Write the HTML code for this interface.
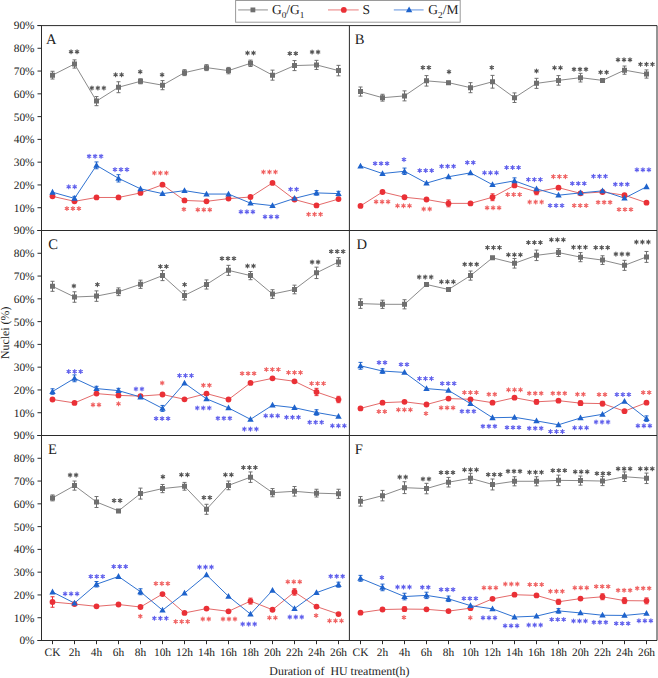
<!DOCTYPE html><html><head><meta charset="utf-8"><style>html,body{margin:0;padding:0;background:#fff;}svg{display:block;}text{font-family:"Liberation Serif",serif;text-rendering:geometricPrecision;}</style></head><body>
<svg width="658" height="678" viewBox="0 0 658 678">
<rect width="658" height="678" fill="#fff"/>
<polyline points="52.5,75.16 74.5,63.99 96.5,101.12 118.5,87.23 140.5,81.31 162.5,85.18 184.5,72.65 206.5,67.64 228.5,70.6 250.5,63.31 272.5,75.16 294.5,65.59 316.5,64.91 338.5,70.6" fill="none" stroke="#8a8a8a" stroke-width="1" stroke-linejoin="round"/>
<polyline points="52.5,196.33 74.5,201.34 96.5,197.47 118.5,197.47 140.5,192.92 162.5,184.72 184.5,200.43 206.5,201.34 228.5,198.61 250.5,197.02 272.5,182.89 294.5,199.52 316.5,205.44 338.5,199.07" fill="none" stroke="#e46a6a" stroke-width="1" stroke-linejoin="round"/>
<polyline points="52.5,192.23 74.5,198.38 96.5,165.36 118.5,178.34 140.5,188.82 162.5,193.6 184.5,190.64 206.5,194.06 228.5,194.06 250.5,203.17 272.5,205.67 294.5,198.38 316.5,192.92 338.5,193.6" fill="none" stroke="#2f72d2" stroke-width="1" stroke-linejoin="round"/>
<path d="M52.5 71.28V79.03M50.5 71.28H54.5M50.5 79.03H54.5M74.5 59.89V68.09M72.5 59.89H76.5M72.5 68.09H76.5M96.5 96.57V105.68M94.5 96.57H98.5M94.5 105.68H98.5M118.5 81.76V92.69M116.5 81.76H120.5M116.5 92.69H120.5M140.5 78.8V83.81M138.5 78.8H142.5M138.5 83.81H142.5M162.5 80.62V89.73M160.5 80.62H164.5M160.5 89.73H164.5M184.5 69.69V75.61M182.5 69.69H186.5M182.5 75.61H186.5M206.5 64.68V70.6M204.5 64.68H208.5M204.5 70.6H208.5M228.5 67.41V73.79M226.5 67.41H230.5M226.5 73.79H230.5M250.5 60.12V66.5M248.5 60.12H252.5M248.5 66.5H252.5M272.5 70.14V80.17M270.5 70.14H274.5M270.5 80.17H274.5M294.5 60.58V70.6M292.5 60.58H296.5M292.5 70.6H296.5M316.5 60.35V69.46M314.5 60.35H318.5M314.5 69.46H318.5M338.5 65.36V75.84M336.5 65.36H340.5M336.5 75.84H340.5" stroke="#6f6f6f" stroke-width="1" fill="none"/>
<path d="" stroke="#ea3036" stroke-width="1" fill="none"/>
<path d="M74.5 196.33V200.43M72.5 196.33H76.5M72.5 200.43H76.5M96.5 161.94V168.77M94.5 161.94H98.5M94.5 168.77H98.5M118.5 174.69V181.98M116.5 174.69H120.5M116.5 181.98H120.5M316.5 190.64V195.19M314.5 190.64H318.5M314.5 195.19H318.5M338.5 191.32V195.88M336.5 191.32H340.5M336.5 195.88H340.5" stroke="#1e63cc" stroke-width="1" fill="none"/>
<path d="M50 72.66h5v5h-5zM72 61.49h5v5h-5zM94 98.62h5v5h-5zM116 84.73h5v5h-5zM138 78.81h5v5h-5zM160 82.68h5v5h-5zM182 70.15h5v5h-5zM204 65.14h5v5h-5zM226 68.1h5v5h-5zM248 60.81h5v5h-5zM270 72.66h5v5h-5zM292 63.09h5v5h-5zM314 62.41h5v5h-5zM336 68.1h5v5h-5z" fill="#6f6f6f"/>
<circle cx="52.5" cy="196.33" r="2.9" fill="#ea3036"/>
<circle cx="74.5" cy="201.34" r="2.9" fill="#ea3036"/>
<circle cx="96.5" cy="197.47" r="2.9" fill="#ea3036"/>
<circle cx="118.5" cy="197.47" r="2.9" fill="#ea3036"/>
<circle cx="140.5" cy="192.92" r="2.9" fill="#ea3036"/>
<circle cx="162.5" cy="184.72" r="2.9" fill="#ea3036"/>
<circle cx="184.5" cy="200.43" r="2.9" fill="#ea3036"/>
<circle cx="206.5" cy="201.34" r="2.9" fill="#ea3036"/>
<circle cx="228.5" cy="198.61" r="2.9" fill="#ea3036"/>
<circle cx="250.5" cy="197.02" r="2.9" fill="#ea3036"/>
<circle cx="272.5" cy="182.89" r="2.9" fill="#ea3036"/>
<circle cx="294.5" cy="199.52" r="2.9" fill="#ea3036"/>
<circle cx="316.5" cy="205.44" r="2.9" fill="#ea3036"/>
<circle cx="338.5" cy="199.07" r="2.9" fill="#ea3036"/>
<path d="M52.5 188.83L55.7 194.63L49.3 194.63zM74.5 194.98L77.7 200.78L71.3 200.78zM96.5 161.96L99.7 167.76L93.3 167.76zM118.5 174.94L121.7 180.74L115.3 180.74zM140.5 185.42L143.7 191.22L137.3 191.22zM162.5 190.2L165.7 196L159.3 196zM184.5 187.24L187.7 193.04L181.3 193.04zM206.5 190.66L209.7 196.46L203.3 196.46zM228.5 190.66L231.7 196.46L225.3 196.46zM250.5 199.77L253.7 205.57L247.3 205.57zM272.5 202.27L275.7 208.07L269.3 208.07zM294.5 194.98L297.7 200.78L291.3 200.78zM316.5 189.52L319.7 195.32L313.3 195.32zM338.5 190.2L341.7 196L335.3 196z" fill="#1e63cc"/>
<polyline points="360.5,91.56 382.5,97.71 404.5,95.88 426.5,80.85 448.5,82.67 470.5,87.68 492.5,81.76 514.5,97.71 536.5,83.36 558.5,80.39 580.5,77.66 602.5,80.39 624.5,70.14 646.5,74.02" fill="none" stroke="#8a8a8a" stroke-width="1" stroke-linejoin="round"/>
<polyline points="360.5,205.9 382.5,192.01 404.5,197.24 426.5,199.52 448.5,203.39 470.5,203.39 492.5,197.24 514.5,185.4 536.5,191.78 558.5,187.68 580.5,193.37 602.5,192.01 624.5,195.19 646.5,202.71" fill="none" stroke="#e46a6a" stroke-width="1" stroke-linejoin="round"/>
<polyline points="360.5,166.04 382.5,173.56 404.5,171.28 426.5,183.12 448.5,176.74 470.5,172.87 492.5,184.72 514.5,180.84 536.5,188.82 558.5,195.19 580.5,192.92 602.5,190.87 624.5,198.16 646.5,186.77" fill="none" stroke="#2f72d2" stroke-width="1" stroke-linejoin="round"/>
<path d="M360.5 87V96.11M358.5 87H362.5M358.5 96.11H362.5M382.5 94.29V101.12M380.5 94.29H384.5M380.5 101.12H384.5M404.5 90.87V100.89M402.5 90.87H406.5M402.5 100.89H406.5M426.5 75.61V86.09M424.5 75.61H428.5M424.5 86.09H428.5M448.5 81.31V84.04M446.5 81.31H450.5M446.5 84.04H450.5M470.5 82.67V92.69M468.5 82.67H472.5M468.5 92.69H472.5M492.5 75.38V88.14M490.5 75.38H494.5M490.5 88.14H494.5M514.5 92.92V102.49M512.5 92.92H516.5M512.5 102.49H516.5M536.5 78.34V88.37M534.5 78.34H538.5M534.5 88.37H538.5M558.5 75.61V85.18M556.5 75.61H560.5M556.5 85.18H560.5M580.5 73.33V81.99M578.5 73.33H582.5M578.5 81.99H582.5M602.5 79.03V81.76M600.5 79.03H604.5M600.5 81.76H604.5M624.5 66.04V74.24M622.5 66.04H626.5M622.5 74.24H626.5M646.5 69.92V78.12M644.5 69.92H648.5M644.5 78.12H648.5" stroke="#6f6f6f" stroke-width="1" fill="none"/>
<path d="M448.5 199.98V206.81M446.5 199.98H450.5M446.5 206.81H450.5M492.5 193.83V200.66M490.5 193.83H494.5M490.5 200.66H494.5M536.5 188.82V194.74M534.5 188.82H538.5M534.5 194.74H538.5" stroke="#ea3036" stroke-width="1" fill="none"/>
<path d="M404.5 168.09V174.47M402.5 168.09H406.5M402.5 174.47H406.5M514.5 177.88V183.81M512.5 177.88H516.5M512.5 183.81H516.5" stroke="#1e63cc" stroke-width="1" fill="none"/>
<path d="M358 89.06h5v5h-5zM380 95.21h5v5h-5zM402 93.38h5v5h-5zM424 78.35h5v5h-5zM446 80.17h5v5h-5zM468 85.18h5v5h-5zM490 79.26h5v5h-5zM512 95.21h5v5h-5zM534 80.86h5v5h-5zM556 77.89h5v5h-5zM578 75.16h5v5h-5zM600 77.89h5v5h-5zM622 67.64h5v5h-5zM644 71.52h5v5h-5z" fill="#6f6f6f"/>
<circle cx="360.5" cy="205.9" r="2.9" fill="#ea3036"/>
<circle cx="382.5" cy="192.01" r="2.9" fill="#ea3036"/>
<circle cx="404.5" cy="197.24" r="2.9" fill="#ea3036"/>
<circle cx="426.5" cy="199.52" r="2.9" fill="#ea3036"/>
<circle cx="448.5" cy="203.39" r="2.9" fill="#ea3036"/>
<circle cx="470.5" cy="203.39" r="2.9" fill="#ea3036"/>
<circle cx="492.5" cy="197.24" r="2.9" fill="#ea3036"/>
<circle cx="514.5" cy="185.4" r="2.9" fill="#ea3036"/>
<circle cx="536.5" cy="191.78" r="2.9" fill="#ea3036"/>
<circle cx="558.5" cy="187.68" r="2.9" fill="#ea3036"/>
<circle cx="580.5" cy="193.37" r="2.9" fill="#ea3036"/>
<circle cx="602.5" cy="192.01" r="2.9" fill="#ea3036"/>
<circle cx="624.5" cy="195.19" r="2.9" fill="#ea3036"/>
<circle cx="646.5" cy="202.71" r="2.9" fill="#ea3036"/>
<path d="M360.5 162.64L363.7 168.44L357.3 168.44zM382.5 170.16L385.7 175.96L379.3 175.96zM404.5 167.88L407.7 173.68L401.3 173.68zM426.5 179.72L429.7 185.52L423.3 185.52zM448.5 173.34L451.7 179.14L445.3 179.14zM470.5 169.47L473.7 175.27L467.3 175.27zM492.5 181.32L495.7 187.12L489.3 187.12zM514.5 177.44L517.7 183.24L511.3 183.24zM536.5 185.42L539.7 191.22L533.3 191.22zM558.5 191.79L561.7 197.59L555.3 197.59zM580.5 189.52L583.7 195.32L577.3 195.32zM602.5 187.47L605.7 193.27L599.3 193.27zM624.5 194.76L627.7 200.56L621.3 200.56zM646.5 183.37L649.7 189.17L643.3 189.17z" fill="#1e63cc"/>
<polyline points="52.5,286.31 74.5,297.01 96.5,296.1 118.5,291.77 140.5,284.26 162.5,275.6 184.5,295.42 206.5,284.48 228.5,270.36 250.5,275.6 272.5,294.05 294.5,289.49 316.5,272.87 338.5,261.93" fill="none" stroke="#8a8a8a" stroke-width="1" stroke-linejoin="round"/>
<polyline points="52.5,399.51 74.5,402.93 96.5,393.59 118.5,395.41 140.5,396.09 162.5,394.5 184.5,399.28 206.5,393.59 228.5,399.51 250.5,382.88 272.5,378.33 294.5,381.29 316.5,391.99 338.5,399.51" fill="none" stroke="#e46a6a" stroke-width="1" stroke-linejoin="round"/>
<polyline points="52.5,391.54 74.5,378.33 96.5,388.58 118.5,390.63 140.5,397.01 162.5,408.39 184.5,383.11 206.5,398.83 228.5,407.94 250.5,419.33 272.5,405.21 294.5,407.71 316.5,412.49 338.5,416.37" fill="none" stroke="#2f72d2" stroke-width="1" stroke-linejoin="round"/>
<path d="M52.5 281.29V291.32M50.5 281.29H54.5M50.5 291.32H54.5M74.5 291.77V302.25M72.5 291.77H76.5M72.5 302.25H76.5M96.5 290.86V301.34M94.5 290.86H98.5M94.5 301.34H98.5M118.5 287.9V295.64M116.5 287.9H120.5M116.5 295.64H120.5M140.5 280.16V288.36M138.5 280.16H142.5M138.5 288.36H142.5M162.5 270.59V280.61M160.5 270.59H164.5M160.5 280.61H164.5M184.5 290.86V299.97M182.5 290.86H186.5M182.5 299.97H186.5M206.5 279.93V289.04M204.5 279.93H208.5M204.5 289.04H208.5M228.5 265.35V275.37M226.5 265.35H230.5M226.5 275.37H230.5M250.5 271.5V279.7M248.5 271.5H252.5M248.5 279.7H252.5M272.5 289.72V298.38M270.5 289.72H274.5M270.5 298.38H274.5M294.5 285.17V293.82M292.5 285.17H296.5M292.5 293.82H296.5M316.5 267.17V278.56M314.5 267.17H318.5M314.5 278.56H318.5M338.5 257.61V266.26M336.5 257.61H340.5M336.5 266.26H340.5" stroke="#6f6f6f" stroke-width="1" fill="none"/>
<path d="M316.5 388.35V395.64M314.5 388.35H318.5M314.5 395.64H318.5M338.5 396.32V402.7M336.5 396.32H340.5M336.5 402.7H340.5" stroke="#ea3036" stroke-width="1" fill="none"/>
<path d="M52.5 388.81V394.27M50.5 388.81H54.5M50.5 394.27H54.5M74.5 374.91V381.74M72.5 374.91H76.5M72.5 381.74H76.5M96.5 386.3V390.86M94.5 386.3H98.5M94.5 390.86H98.5M118.5 388.35V392.91M116.5 388.35H120.5M116.5 392.91H120.5M162.5 405.43V411.36M160.5 405.43H164.5M160.5 411.36H164.5M316.5 409.76V415.23M314.5 409.76H318.5M314.5 415.23H318.5" stroke="#1e63cc" stroke-width="1" fill="none"/>
<path d="M50 283.81h5v5h-5zM72 294.51h5v5h-5zM94 293.6h5v5h-5zM116 289.27h5v5h-5zM138 281.76h5v5h-5zM160 273.1h5v5h-5zM182 292.92h5v5h-5zM204 281.98h5v5h-5zM226 267.86h5v5h-5zM248 273.1h5v5h-5zM270 291.55h5v5h-5zM292 286.99h5v5h-5zM314 270.37h5v5h-5zM336 259.43h5v5h-5z" fill="#6f6f6f"/>
<circle cx="52.5" cy="399.51" r="2.9" fill="#ea3036"/>
<circle cx="74.5" cy="402.93" r="2.9" fill="#ea3036"/>
<circle cx="96.5" cy="393.59" r="2.9" fill="#ea3036"/>
<circle cx="118.5" cy="395.41" r="2.9" fill="#ea3036"/>
<circle cx="140.5" cy="396.09" r="2.9" fill="#ea3036"/>
<circle cx="162.5" cy="394.5" r="2.9" fill="#ea3036"/>
<circle cx="184.5" cy="399.28" r="2.9" fill="#ea3036"/>
<circle cx="206.5" cy="393.59" r="2.9" fill="#ea3036"/>
<circle cx="228.5" cy="399.51" r="2.9" fill="#ea3036"/>
<circle cx="250.5" cy="382.88" r="2.9" fill="#ea3036"/>
<circle cx="272.5" cy="378.33" r="2.9" fill="#ea3036"/>
<circle cx="294.5" cy="381.29" r="2.9" fill="#ea3036"/>
<circle cx="316.5" cy="391.99" r="2.9" fill="#ea3036"/>
<circle cx="338.5" cy="399.51" r="2.9" fill="#ea3036"/>
<path d="M52.5 388.14L55.7 393.94L49.3 393.94zM74.5 374.93L77.7 380.73L71.3 380.73zM96.5 385.18L99.7 390.98L93.3 390.98zM118.5 387.23L121.7 393.03L115.3 393.03zM140.5 393.61L143.7 399.41L137.3 399.41zM162.5 404.99L165.7 410.79L159.3 410.79zM184.5 379.71L187.7 385.51L181.3 385.51zM206.5 395.43L209.7 401.23L203.3 401.23zM228.5 404.54L231.7 410.34L225.3 410.34zM250.5 415.93L253.7 421.73L247.3 421.73zM272.5 401.81L275.7 407.61L269.3 407.61zM294.5 404.31L297.7 410.11L291.3 410.11zM316.5 409.09L319.7 414.89L313.3 414.89zM338.5 412.97L341.7 418.77L335.3 418.77z" fill="#1e63cc"/>
<polyline points="360.5,303.62 382.5,304.3 404.5,304.3 426.5,284.48 448.5,289.49 470.5,275.6 492.5,257.83 514.5,263.3 536.5,255.33 558.5,252.59 580.5,257.15 602.5,260.11 624.5,265.35 646.5,256.92" fill="none" stroke="#8a8a8a" stroke-width="1" stroke-linejoin="round"/>
<polyline points="360.5,408.39 382.5,402.7 404.5,401.79 426.5,404.52 448.5,398.6 470.5,399.28 492.5,402.7 514.5,397.69 536.5,401.79 558.5,400.65 580.5,403.16 602.5,403.61 624.5,411.13 646.5,402.7" fill="none" stroke="#e46a6a" stroke-width="1" stroke-linejoin="round"/>
<polyline points="360.5,365.8 382.5,371.04 404.5,372.41 426.5,388.58 448.5,390.4 470.5,403.61 492.5,417.73 514.5,417.28 536.5,420.92 558.5,424.79 580.5,417.96 602.5,414.32 624.5,401.33 646.5,418.64" fill="none" stroke="#2f72d2" stroke-width="1" stroke-linejoin="round"/>
<path d="M360.5 298.83V308.4M358.5 298.83H362.5M358.5 308.4H362.5M382.5 300.2V308.4M380.5 300.2H384.5M380.5 308.4H384.5M404.5 299.74V308.86M402.5 299.74H406.5M402.5 308.86H406.5M426.5 283.12V285.85M424.5 283.12H428.5M424.5 285.85H428.5M448.5 288.13V290.86M446.5 288.13H450.5M446.5 290.86H450.5M470.5 271.04V280.16M468.5 271.04H472.5M468.5 280.16H472.5M492.5 256.47V259.2M490.5 256.47H494.5M490.5 259.2H494.5M514.5 258.52V268.08M512.5 258.52H516.5M512.5 268.08H516.5M536.5 250.09V260.57M534.5 250.09H538.5M534.5 260.57H538.5M558.5 248.72V256.47M556.5 248.72H560.5M556.5 256.47H560.5M580.5 252.59V261.71M578.5 252.59H582.5M578.5 261.71H582.5M602.5 255.78V264.44M600.5 255.78H604.5M600.5 264.44H604.5M624.5 260.34V270.36M622.5 260.34H626.5M622.5 270.36H626.5M646.5 251.46V262.39M644.5 251.46H648.5M644.5 262.39H648.5" stroke="#6f6f6f" stroke-width="1" fill="none"/>
<path d="M536.5 399.51V404.07M534.5 399.51H538.5M534.5 404.07H538.5M580.5 400.88V405.43M578.5 400.88H582.5M578.5 405.43H582.5M602.5 401.33V405.89M600.5 401.33H604.5M600.5 405.89H604.5" stroke="#ea3036" stroke-width="1" fill="none"/>
<path d="M360.5 362.38V369.22M358.5 362.38H362.5M358.5 369.22H362.5M382.5 368.76V373.32M380.5 368.76H384.5M380.5 373.32H384.5M646.5 415.91V421.38M644.5 415.91H648.5M644.5 421.38H648.5" stroke="#1e63cc" stroke-width="1" fill="none"/>
<path d="M358 301.12h5v5h-5zM380 301.8h5v5h-5zM402 301.8h5v5h-5zM424 281.98h5v5h-5zM446 286.99h5v5h-5zM468 273.1h5v5h-5zM490 255.33h5v5h-5zM512 260.8h5v5h-5zM534 252.83h5v5h-5zM556 250.09h5v5h-5zM578 254.65h5v5h-5zM600 257.61h5v5h-5zM622 262.85h5v5h-5zM644 254.42h5v5h-5z" fill="#6f6f6f"/>
<circle cx="360.5" cy="408.39" r="2.9" fill="#ea3036"/>
<circle cx="382.5" cy="402.7" r="2.9" fill="#ea3036"/>
<circle cx="404.5" cy="401.79" r="2.9" fill="#ea3036"/>
<circle cx="426.5" cy="404.52" r="2.9" fill="#ea3036"/>
<circle cx="448.5" cy="398.6" r="2.9" fill="#ea3036"/>
<circle cx="470.5" cy="399.28" r="2.9" fill="#ea3036"/>
<circle cx="492.5" cy="402.7" r="2.9" fill="#ea3036"/>
<circle cx="514.5" cy="397.69" r="2.9" fill="#ea3036"/>
<circle cx="536.5" cy="401.79" r="2.9" fill="#ea3036"/>
<circle cx="558.5" cy="400.65" r="2.9" fill="#ea3036"/>
<circle cx="580.5" cy="403.16" r="2.9" fill="#ea3036"/>
<circle cx="602.5" cy="403.61" r="2.9" fill="#ea3036"/>
<circle cx="624.5" cy="411.13" r="2.9" fill="#ea3036"/>
<circle cx="646.5" cy="402.7" r="2.9" fill="#ea3036"/>
<path d="M360.5 362.4L363.7 368.2L357.3 368.2zM382.5 367.64L385.7 373.44L379.3 373.44zM404.5 369.01L407.7 374.81L401.3 374.81zM426.5 385.18L429.7 390.98L423.3 390.98zM448.5 387L451.7 392.8L445.3 392.8zM470.5 400.21L473.7 406.01L467.3 406.01zM492.5 414.33L495.7 420.13L489.3 420.13zM514.5 413.88L517.7 419.68L511.3 419.68zM536.5 417.52L539.7 423.32L533.3 423.32zM558.5 421.39L561.7 427.19L555.3 427.19zM580.5 414.56L583.7 420.36L577.3 420.36zM602.5 410.92L605.7 416.72L599.3 416.72zM624.5 397.93L627.7 403.73L621.3 403.73zM646.5 415.24L649.7 421.04L643.3 421.04z" fill="#1e63cc"/>
<polyline points="52.5,497.91 74.5,485.61 96.5,502.01 118.5,510.89 140.5,493.58 162.5,488.57 184.5,486.29 206.5,509.3 228.5,485.38 250.5,477.18 272.5,492.67 294.5,491.31 316.5,493.13 338.5,493.81" fill="none" stroke="#8a8a8a" stroke-width="1" stroke-linejoin="round"/>
<polyline points="52.5,602.01 74.5,604.06 96.5,606.33 118.5,604.51 140.5,607.02 162.5,594.03 184.5,612.94 206.5,608.61 228.5,611.34 250.5,601.09 272.5,609.75 294.5,591.98 316.5,606.56 338.5,614.08" fill="none" stroke="#e46a6a" stroke-width="1" stroke-linejoin="round"/>
<polyline points="52.5,591.98 74.5,603.14 96.5,584.24 118.5,576.49 140.5,591.76 162.5,610.21 184.5,593.12 206.5,574.9 228.5,596.31 250.5,614.08 272.5,590.39 294.5,608.61 316.5,592.67 338.5,584.69" fill="none" stroke="#2f72d2" stroke-width="1" stroke-linejoin="round"/>
<path d="M52.5 494.95V500.87M50.5 494.95H54.5M50.5 500.87H54.5M74.5 481.06V490.17M72.5 481.06H76.5M72.5 490.17H76.5M96.5 496.54V507.48M94.5 496.54H98.5M94.5 507.48H98.5M118.5 509.53V512.26M116.5 509.53H120.5M116.5 512.26H120.5M140.5 488.12V499.05M138.5 488.12H142.5M138.5 499.05H142.5M162.5 484.47V492.67M160.5 484.47H164.5M160.5 492.67H164.5M184.5 482.42V490.17M182.5 482.42H186.5M182.5 490.17H186.5M206.5 504.29V514.31M204.5 504.29H208.5M204.5 514.31H208.5M228.5 481.06V489.71M226.5 481.06H230.5M226.5 489.71H230.5M250.5 471.94V482.42M248.5 471.94H252.5M248.5 482.42H252.5M272.5 488.57V496.77M270.5 488.57H274.5M270.5 496.77H274.5M294.5 486.52V496.09M292.5 486.52H296.5M292.5 496.09H296.5M316.5 489.26V497M314.5 489.26H318.5M314.5 497H318.5M338.5 489.26V498.37M336.5 489.26H340.5M336.5 498.37H340.5" stroke="#6f6f6f" stroke-width="1" fill="none"/>
<path d="M52.5 596.77V607.24M50.5 596.77H54.5M50.5 607.24H54.5M250.5 598.13V604.06M248.5 598.13H252.5M248.5 604.06H252.5M294.5 588.79V595.17M292.5 588.79H296.5M292.5 595.17H296.5" stroke="#ea3036" stroke-width="1" fill="none"/>
<path d="M96.5 581.51V586.97M94.5 581.51H98.5M94.5 586.97H98.5M140.5 588.79V594.72M138.5 588.79H142.5M138.5 594.72H142.5M338.5 582.19V587.2M336.5 582.19H340.5M336.5 587.2H340.5" stroke="#1e63cc" stroke-width="1" fill="none"/>
<path d="M50 495.41h5v5h-5zM72 483.11h5v5h-5zM94 499.51h5v5h-5zM116 508.39h5v5h-5zM138 491.08h5v5h-5zM160 486.07h5v5h-5zM182 483.79h5v5h-5zM204 506.8h5v5h-5zM226 482.88h5v5h-5zM248 474.68h5v5h-5zM270 490.17h5v5h-5zM292 488.81h5v5h-5zM314 490.63h5v5h-5zM336 491.31h5v5h-5z" fill="#6f6f6f"/>
<circle cx="52.5" cy="602.01" r="2.9" fill="#ea3036"/>
<circle cx="74.5" cy="604.06" r="2.9" fill="#ea3036"/>
<circle cx="96.5" cy="606.33" r="2.9" fill="#ea3036"/>
<circle cx="118.5" cy="604.51" r="2.9" fill="#ea3036"/>
<circle cx="140.5" cy="607.02" r="2.9" fill="#ea3036"/>
<circle cx="162.5" cy="594.03" r="2.9" fill="#ea3036"/>
<circle cx="184.5" cy="612.94" r="2.9" fill="#ea3036"/>
<circle cx="206.5" cy="608.61" r="2.9" fill="#ea3036"/>
<circle cx="228.5" cy="611.34" r="2.9" fill="#ea3036"/>
<circle cx="250.5" cy="601.09" r="2.9" fill="#ea3036"/>
<circle cx="272.5" cy="609.75" r="2.9" fill="#ea3036"/>
<circle cx="294.5" cy="591.98" r="2.9" fill="#ea3036"/>
<circle cx="316.5" cy="606.56" r="2.9" fill="#ea3036"/>
<circle cx="338.5" cy="614.08" r="2.9" fill="#ea3036"/>
<path d="M52.5 588.58L55.7 594.38L49.3 594.38zM74.5 599.74L77.7 605.54L71.3 605.54zM96.5 580.84L99.7 586.64L93.3 586.64zM118.5 573.09L121.7 578.89L115.3 578.89zM140.5 588.36L143.7 594.16L137.3 594.16zM162.5 606.81L165.7 612.61L159.3 612.61zM184.5 589.72L187.7 595.52L181.3 595.52zM206.5 571.5L209.7 577.3L203.3 577.3zM228.5 592.91L231.7 598.71L225.3 598.71zM250.5 610.68L253.7 616.48L247.3 616.48zM272.5 586.99L275.7 592.79L269.3 592.79zM294.5 605.21L297.7 611.01L291.3 611.01zM316.5 589.27L319.7 595.07L313.3 595.07zM338.5 581.29L341.7 587.09L335.3 587.09z" fill="#1e63cc"/>
<polyline points="360.5,501.33 382.5,495.63 404.5,487.66 426.5,488.57 448.5,482.19 470.5,478.32 492.5,484.47 514.5,481.28 536.5,481.28 558.5,480.37 580.5,480.6 602.5,481.06 624.5,476.73 646.5,478.32" fill="none" stroke="#8a8a8a" stroke-width="1" stroke-linejoin="round"/>
<polyline points="360.5,612.71 382.5,609.52 404.5,609.07 426.5,609.29 448.5,611.12 470.5,608.16 492.5,598.82 514.5,594.72 536.5,595.4 558.5,601.78 580.5,598.59 602.5,596.77 624.5,600.64 646.5,600.87" fill="none" stroke="#e46a6a" stroke-width="1" stroke-linejoin="round"/>
<polyline points="360.5,578.32 382.5,587.43 404.5,596.54 426.5,595.4 448.5,598.82 470.5,605.65 492.5,608.84 514.5,617.04 536.5,616.13 558.5,610.89 580.5,612.94 602.5,615.22 624.5,615.44 646.5,613.39" fill="none" stroke="#2f72d2" stroke-width="1" stroke-linejoin="round"/>
<path d="M360.5 496.54V506.11M358.5 496.54H362.5M358.5 506.11H362.5M382.5 490.39V500.87M380.5 490.39H384.5M380.5 500.87H384.5M404.5 481.74V493.58M402.5 481.74H406.5M402.5 493.58H406.5M426.5 483.33V493.81M424.5 483.33H428.5M424.5 493.81H428.5M448.5 477.41V486.98M446.5 477.41H450.5M446.5 486.98H450.5M470.5 473.31V483.33M468.5 473.31H472.5M468.5 483.33H472.5M492.5 479.01V489.94M490.5 479.01H494.5M490.5 489.94H494.5M514.5 476.73V485.84M512.5 476.73H516.5M512.5 485.84H516.5M536.5 476.73V485.84M534.5 476.73H538.5M534.5 485.84H538.5M558.5 475.13V485.61M556.5 475.13H560.5M556.5 485.61H560.5M580.5 476.04V485.16M578.5 476.04H582.5M578.5 485.16H582.5M602.5 476.5V485.61M600.5 476.5H604.5M600.5 485.61H604.5M624.5 471.94V481.51M622.5 471.94H626.5M622.5 481.51H626.5M646.5 473.08V483.56M644.5 473.08H648.5M644.5 483.56H648.5" stroke="#6f6f6f" stroke-width="1" fill="none"/>
<path d="M404.5 606.79V611.34M402.5 606.79H406.5M402.5 611.34H406.5M558.5 599.27V604.28M556.5 599.27H560.5M556.5 604.28H560.5M602.5 593.81V599.73M600.5 593.81H604.5M600.5 599.73H604.5M624.5 597.68V603.6M622.5 597.68H626.5M622.5 603.6H626.5M646.5 597.91V603.83M644.5 597.91H648.5M644.5 603.83H648.5" stroke="#ea3036" stroke-width="1" fill="none"/>
<path d="M360.5 575.36V581.28M358.5 575.36H362.5M358.5 581.28H362.5M382.5 584.12V590.73M380.5 584.12H384.5M380.5 590.73H384.5M404.5 593.24V599.84M402.5 593.24H406.5M402.5 599.84H406.5M426.5 592.21V598.59M424.5 592.21H428.5M424.5 598.59H428.5M448.5 596.08V601.55M446.5 596.08H450.5M446.5 601.55H450.5M558.5 608.61V613.17M556.5 608.61H560.5M556.5 613.17H560.5" stroke="#1e63cc" stroke-width="1" fill="none"/>
<path d="M358 498.83h5v5h-5zM380 493.13h5v5h-5zM402 485.16h5v5h-5zM424 486.07h5v5h-5zM446 479.69h5v5h-5zM468 475.82h5v5h-5zM490 481.97h5v5h-5zM512 478.78h5v5h-5zM534 478.78h5v5h-5zM556 477.87h5v5h-5zM578 478.1h5v5h-5zM600 478.56h5v5h-5zM622 474.23h5v5h-5zM644 475.82h5v5h-5z" fill="#6f6f6f"/>
<circle cx="360.5" cy="612.71" r="2.9" fill="#ea3036"/>
<circle cx="382.5" cy="609.52" r="2.9" fill="#ea3036"/>
<circle cx="404.5" cy="609.07" r="2.9" fill="#ea3036"/>
<circle cx="426.5" cy="609.29" r="2.9" fill="#ea3036"/>
<circle cx="448.5" cy="611.12" r="2.9" fill="#ea3036"/>
<circle cx="470.5" cy="608.16" r="2.9" fill="#ea3036"/>
<circle cx="492.5" cy="598.82" r="2.9" fill="#ea3036"/>
<circle cx="514.5" cy="594.72" r="2.9" fill="#ea3036"/>
<circle cx="536.5" cy="595.4" r="2.9" fill="#ea3036"/>
<circle cx="558.5" cy="601.78" r="2.9" fill="#ea3036"/>
<circle cx="580.5" cy="598.59" r="2.9" fill="#ea3036"/>
<circle cx="602.5" cy="596.77" r="2.9" fill="#ea3036"/>
<circle cx="624.5" cy="600.64" r="2.9" fill="#ea3036"/>
<circle cx="646.5" cy="600.87" r="2.9" fill="#ea3036"/>
<path d="M360.5 574.92L363.7 580.72L357.3 580.72zM382.5 584.03L385.7 589.83L379.3 589.83zM404.5 593.14L407.7 598.94L401.3 598.94zM426.5 592L429.7 597.8L423.3 597.8zM448.5 595.42L451.7 601.22L445.3 601.22zM470.5 602.25L473.7 608.05L467.3 608.05zM492.5 605.44L495.7 611.24L489.3 611.24zM514.5 613.64L517.7 619.44L511.3 619.44zM536.5 612.73L539.7 618.53L533.3 618.53zM558.5 607.49L561.7 613.29L555.3 613.29zM580.5 609.54L583.7 615.34L577.3 615.34zM602.5 611.82L605.7 617.62L599.3 617.62zM624.5 612.04L627.7 617.84L621.3 617.84zM646.5 609.99L649.7 615.79L643.3 615.79z" fill="#1e63cc"/>
<path d="M71.05 53.65L71.05 49.75M69.36 52.68L72.74 50.73M72.74 52.68L69.36 50.73M77.05 53.65L77.05 49.75M75.36 52.68L78.74 50.73M78.74 52.68L75.36 50.73M91.9 89.95L91.9 86.05M90.21 88.97L93.59 87.03M93.59 88.97L90.21 87.03M97.9 89.95L97.9 86.05M96.21 88.97L99.59 87.03M99.59 88.97L96.21 87.03M103.9 89.95L103.9 86.05M102.21 88.97L105.59 87.03M105.59 88.97L102.21 87.03M115.6 76.75L115.6 72.85M113.91 75.77L117.29 73.83M117.29 75.77L113.91 73.83M121.6 76.75L121.6 72.85M119.91 75.77L123.29 73.83M123.29 75.77L119.91 73.83M140.2 73.75L140.2 69.85M138.51 72.77L141.89 70.83M141.89 72.77L138.51 70.83M162.1 76.75L162.1 72.85M160.41 75.77L163.79 73.83M163.79 75.77L160.41 73.83M247.5 54.85L247.5 50.95M245.81 53.88L249.19 51.92M249.19 53.88L245.81 51.92M253.5 54.85L253.5 50.95M251.81 53.88L255.19 51.92M255.19 53.88L251.81 51.92M289.8 55.35L289.8 51.45M288.11 54.38L291.49 52.42M291.49 54.38L288.11 52.42M295.8 55.35L295.8 51.45M294.11 54.38L297.49 52.42M297.49 54.38L294.11 52.42M312.1 53.95L312.1 50.05M310.41 52.98L313.79 51.02M313.79 52.98L310.41 51.02M318.1 53.95L318.1 50.05M316.41 52.98L319.79 51.02M319.79 52.98L316.41 51.02M422.9 69.55L422.9 65.65M421.21 68.57L424.59 66.62M424.59 68.57L421.21 66.62M428.9 69.55L428.9 65.65M427.21 68.57L430.59 66.62M430.59 68.57L427.21 66.62M449 73.65L449 69.75M447.31 72.67L450.69 70.73M450.69 72.67L447.31 70.73M491.8 69.55L491.8 65.65M490.11 68.57L493.49 66.62M493.49 68.57L490.11 66.62M536.5 72.85L536.5 68.95M534.81 71.88L538.19 69.93M538.19 71.88L534.81 69.93M554.5 69.65L554.5 65.75M552.81 68.67L556.19 66.73M556.19 68.67L552.81 66.73M560.5 69.65L560.5 65.75M558.81 68.67L562.19 66.73M562.19 68.67L558.81 66.73M574 71.15L574 67.25M572.31 70.17L575.69 68.23M575.69 70.17L572.31 68.23M580 71.15L580 67.25M578.31 70.17L581.69 68.23M581.69 70.17L578.31 68.23M586 71.15L586 67.25M584.31 70.17L587.69 68.23M587.69 70.17L584.31 68.23M600.6 74.15L600.6 70.25M598.91 73.17L602.29 71.23M602.29 73.17L598.91 71.23M606.6 74.15L606.6 70.25M604.91 73.17L608.29 71.23M608.29 73.17L604.91 71.23M618 61.65L618 57.75M616.31 60.68L619.69 58.73M619.69 60.68L616.31 58.73M624 61.65L624 57.75M622.31 60.68L625.69 58.73M625.69 60.68L622.31 58.73M630 61.65L630 57.75M628.31 60.68L631.69 58.73M631.69 60.68L628.31 58.73M640.5 66.15L640.5 62.25M638.81 65.17L642.19 63.23M642.19 65.17L638.81 63.23M646.5 66.15L646.5 62.25M644.81 65.17L648.19 63.23M648.19 65.17L644.81 63.23M652.5 66.15L652.5 62.25M650.81 65.17L654.19 63.23M654.19 65.17L650.81 63.23M73.9 287.85L73.9 283.95M72.21 286.88L75.59 284.92M75.59 286.88L72.21 284.92M97.4 286.55L97.4 282.65M95.71 285.58L99.09 283.62M99.09 285.58L95.71 283.62M160.4 268.35L160.4 264.45M158.71 267.38L162.09 265.42M162.09 267.38L158.71 265.42M166.4 268.35L166.4 264.45M164.71 267.38L168.09 265.42M168.09 267.38L164.71 265.42M184.6 286.55L184.6 282.65M182.91 285.58L186.29 283.62M186.29 285.58L182.91 283.62M222 260.35L222 256.45M220.31 259.38L223.69 257.42M223.69 259.38L220.31 257.42M228 260.35L228 256.45M226.31 259.38L229.69 257.42M229.69 259.38L226.31 257.42M234 260.35L234 256.45M232.31 259.38L235.69 257.42M235.69 259.38L232.31 257.42M247.5 267.85L247.5 263.95M245.81 266.88L249.19 264.92M249.19 266.88L245.81 264.92M253.5 267.85L253.5 263.95M251.81 266.88L255.19 264.92M255.19 266.88L251.81 264.92M312.1 264.05L312.1 260.15M310.41 263.08L313.79 261.12M313.79 263.08L310.41 261.12M318.1 264.05L318.1 260.15M316.41 263.08L319.79 261.12M319.79 263.08L316.41 261.12M331.2 253.35L331.2 249.45M329.51 252.38L332.89 250.43M332.89 252.38L329.51 250.43M337.2 253.35L337.2 249.45M335.51 252.38L338.89 250.43M338.89 252.38L335.51 250.43M343.2 253.35L343.2 249.45M341.51 252.38L344.89 250.43M344.89 252.38L341.51 250.43M419.2 279.05L419.2 275.15M417.51 278.08L420.89 276.12M420.89 278.08L417.51 276.12M425.2 279.05L425.2 275.15M423.51 278.08L426.89 276.12M426.89 278.08L423.51 276.12M431.2 279.05L431.2 275.15M429.51 278.08L432.89 276.12M432.89 278.08L429.51 276.12M441.4 283.75L441.4 279.85M439.71 282.78L443.09 280.82M443.09 282.78L439.71 280.82M447.4 283.75L447.4 279.85M445.71 282.78L449.09 280.82M449.09 282.78L445.71 280.82M453.4 283.75L453.4 279.85M451.71 282.78L455.09 280.82M455.09 282.78L451.71 280.82M464.7 266.25L464.7 262.35M463.01 265.28L466.39 263.32M466.39 265.28L463.01 263.32M470.7 266.25L470.7 262.35M469.01 265.28L472.39 263.32M472.39 265.28L469.01 263.32M476.7 266.25L476.7 262.35M475.01 265.28L478.39 263.32M478.39 265.28L475.01 263.32M487.5 249.55L487.5 245.65M485.81 248.57L489.19 246.62M489.19 248.57L485.81 246.62M493.5 249.55L493.5 245.65M491.81 248.57L495.19 246.62M495.19 248.57L491.81 246.62M499.5 249.55L499.5 245.65M497.81 248.57L501.19 246.62M501.19 248.57L497.81 246.62M508.4 256.65L508.4 252.75M506.71 255.67L510.09 253.72M510.09 255.67L506.71 253.72M514.4 256.65L514.4 252.75M512.71 255.67L516.09 253.72M516.09 255.67L512.71 253.72M520.4 256.65L520.4 252.75M518.71 255.67L522.09 253.72M522.09 255.67L518.71 253.72M528.4 244.45L528.4 240.55M526.71 243.47L530.09 241.53M530.09 243.47L526.71 241.53M534.4 244.45L534.4 240.55M532.71 243.47L536.09 241.53M536.09 243.47L532.71 241.53M540.4 244.45L540.4 240.55M538.71 243.47L542.09 241.53M542.09 243.47L538.71 241.53M551.4 241.65L551.4 237.75M549.71 240.67L553.09 238.72M553.09 240.67L549.71 238.72M557.4 241.65L557.4 237.75M555.71 240.67L559.09 238.72M559.09 240.67L555.71 238.72M563.4 241.65L563.4 237.75M561.71 240.67L565.09 238.72M565.09 240.67L561.71 238.72M573.5 249.15L573.5 245.25M571.81 248.17L575.19 246.22M575.19 248.17L571.81 246.22M579.5 249.15L579.5 245.25M577.81 248.17L581.19 246.22M581.19 248.17L577.81 246.22M585.5 249.15L585.5 245.25M583.81 248.17L587.19 246.22M587.19 248.17L583.81 246.22M595.7 249.55L595.7 245.65M594.01 248.57L597.39 246.62M597.39 248.57L594.01 246.62M601.7 249.55L601.7 245.65M600.01 248.57L603.39 246.62M603.39 248.57L600.01 246.62M607.7 249.55L607.7 245.65M606.01 248.57L609.39 246.62M609.39 248.57L606.01 246.62M615.9 256.05L615.9 252.15M614.21 255.07L617.59 253.12M617.59 255.07L614.21 253.12M621.9 256.05L621.9 252.15M620.21 255.07L623.59 253.12M623.59 255.07L620.21 253.12M627.9 256.05L627.9 252.15M626.21 255.07L629.59 253.12M629.59 255.07L626.21 253.12M636.4 243.95L636.4 240.05M634.71 242.97L638.09 241.03M638.09 242.97L634.71 241.03M642.4 243.95L642.4 240.05M640.71 242.97L644.09 241.03M644.09 242.97L640.71 241.03M648.4 243.95L648.4 240.05M646.71 242.97L650.09 241.03M650.09 242.97L646.71 241.03M70.1 477.05L70.1 473.15M68.41 476.08L71.79 474.12M71.79 476.08L68.41 474.12M76.1 477.05L76.1 473.15M74.41 476.08L77.79 474.12M77.79 476.08L74.41 474.12M114.1 502.55L114.1 498.65M112.41 501.58L115.79 499.62M115.79 501.58L112.41 499.62M120.1 502.55L120.1 498.65M118.41 501.58L121.79 499.62M121.79 501.58L118.41 499.62M162.9 478.65L162.9 474.75M161.21 477.68L164.59 475.72M164.59 477.68L161.21 475.72M181.4 476.65L181.4 472.75M179.71 475.68L183.09 473.72M183.09 475.68L179.71 473.72M187.4 476.65L187.4 472.75M185.71 475.68L189.09 473.72M189.09 475.68L185.71 473.72M203.9 499.55L203.9 495.65M202.21 498.58L205.59 496.62M205.59 498.58L202.21 496.62M209.9 499.55L209.9 495.65M208.21 498.58L211.59 496.62M211.59 498.58L208.21 496.62M225.4 476.65L225.4 472.75M223.71 475.68L227.09 473.72M227.09 475.68L223.71 473.72M231.4 476.65L231.4 472.75M229.71 475.68L233.09 473.72M233.09 475.68L229.71 473.72M243.4 469.45L243.4 465.55M241.71 468.48L245.09 466.52M245.09 468.48L241.71 466.52M249.4 469.45L249.4 465.55M247.71 468.48L251.09 466.52M251.09 468.48L247.71 466.52M255.4 469.45L255.4 465.55M253.71 468.48L257.09 466.52M257.09 468.48L253.71 466.52M399.7 479.05L399.7 475.15M398.01 478.08L401.39 476.12M401.39 478.08L398.01 476.12M405.7 479.05L405.7 475.15M404.01 478.08L407.39 476.12M407.39 478.08L404.01 476.12M423 480.85L423 476.95M421.31 479.88L424.69 477.92M424.69 479.88L421.31 477.92M429 480.85L429 476.95M427.31 479.88L430.69 477.92M430.69 479.88L427.31 477.92M441 474.45L441 470.55M439.31 473.48L442.69 471.52M442.69 473.48L439.31 471.52M447 474.45L447 470.55M445.31 473.48L448.69 471.52M448.69 473.48L445.31 471.52M453 474.45L453 470.55M451.31 473.48L454.69 471.52M454.69 473.48L451.31 471.52M464.5 471.65L464.5 467.75M462.81 470.68L466.19 468.72M466.19 470.68L462.81 468.72M470.5 471.65L470.5 467.75M468.81 470.68L472.19 468.72M472.19 470.68L468.81 468.72M476.5 471.65L476.5 467.75M474.81 470.68L478.19 468.72M478.19 470.68L474.81 468.72M488.2 476.55L488.2 472.65M486.51 475.58L489.89 473.62M489.89 475.58L486.51 473.62M494.2 476.55L494.2 472.65M492.51 475.58L495.89 473.62M495.89 475.58L492.51 473.62M500.2 476.55L500.2 472.65M498.51 475.58L501.89 473.62M501.89 475.58L498.51 473.62M508 473.15L508 469.25M506.31 472.18L509.69 470.22M509.69 472.18L506.31 470.22M514 473.15L514 469.25M512.31 472.18L515.69 470.22M515.69 472.18L512.31 470.22M520 473.15L520 469.25M518.31 472.18L521.69 470.22M521.69 472.18L518.31 470.22M529.5 474.15L529.5 470.25M527.81 473.18L531.19 471.22M531.19 473.18L527.81 471.22M535.5 474.15L535.5 470.25M533.81 473.18L537.19 471.22M537.19 473.18L533.81 471.22M541.5 474.15L541.5 470.25M539.81 473.18L543.19 471.22M543.19 473.18L539.81 471.22M552.8 472.35L552.8 468.45M551.11 471.38L554.49 469.42M554.49 471.38L551.11 469.42M558.8 472.35L558.8 468.45M557.11 471.38L560.49 469.42M560.49 471.38L557.11 469.42M564.8 472.35L564.8 468.45M563.11 471.38L566.49 469.42M566.49 471.38L563.11 469.42M575.2 473.65L575.2 469.75M573.51 472.68L576.89 470.72M576.89 472.68L573.51 470.72M581.2 473.65L581.2 469.75M579.51 472.68L582.89 470.72M582.89 472.68L579.51 470.72M587.2 473.65L587.2 469.75M585.51 472.68L588.89 470.72M588.89 472.68L585.51 470.72M596.9 475.35L596.9 471.45M595.21 474.38L598.59 472.42M598.59 474.38L595.21 472.42M602.9 475.35L602.9 471.45M601.21 474.38L604.59 472.42M604.59 474.38L601.21 472.42M608.9 475.35L608.9 471.45M607.21 474.38L610.59 472.42M610.59 474.38L607.21 472.42M618.1 470.65L618.1 466.75M616.41 469.68L619.79 467.72M619.79 469.68L616.41 467.72M624.1 470.65L624.1 466.75M622.41 469.68L625.79 467.72M625.79 469.68L622.41 467.72M630.1 470.65L630.1 466.75M628.41 469.68L631.79 467.72M631.79 469.68L628.41 467.72M640.3 470.65L640.3 466.75M638.61 469.68L641.99 467.72M641.99 469.68L638.61 467.72M646.3 470.65L646.3 466.75M644.61 469.68L647.99 467.72M647.99 469.68L644.61 467.72M652.3 470.65L652.3 466.75M650.61 469.68L653.99 467.72M653.99 469.68L650.61 467.72" stroke="#555555" stroke-width="1.15" stroke-linecap="round" fill="none"/>
<path d="M66.9 210.45L66.9 206.55M65.21 209.47L68.59 207.53M68.59 209.47L65.21 207.53M72.9 210.45L72.9 206.55M71.21 209.47L74.59 207.53M74.59 209.47L71.21 207.53M78.9 210.45L78.9 206.55M77.21 209.47L80.59 207.53M80.59 209.47L77.21 207.53M154.4 174.85L154.4 170.95M152.71 173.88L156.09 171.93M156.09 173.88L152.71 171.93M160.4 174.85L160.4 170.95M158.71 173.88L162.09 171.93M162.09 173.88L158.71 171.93M166.4 174.85L166.4 170.95M164.71 173.88L168.09 171.93M168.09 173.88L164.71 171.93M183.9 211.25L183.9 207.35M182.21 210.28L185.59 208.33M185.59 210.28L182.21 208.33M197.8 211.65L197.8 207.75M196.11 210.67L199.49 208.72M199.49 210.67L196.11 208.72M203.8 211.65L203.8 207.75M202.11 210.67L205.49 208.72M205.49 210.67L202.11 208.72M209.8 211.65L209.8 207.75M208.11 210.67L211.49 208.72M211.49 210.67L208.11 208.72M263.5 173.85L263.5 169.95M261.81 172.88L265.19 170.93M265.19 172.88L261.81 170.93M269.5 173.85L269.5 169.95M267.81 172.88L271.19 170.93M271.19 172.88L267.81 170.93M275.5 173.85L275.5 169.95M273.81 172.88L277.19 170.93M277.19 172.88L273.81 170.93M308.6 216.25L308.6 212.35M306.91 215.28L310.29 213.33M310.29 215.28L306.91 213.33M314.6 216.25L314.6 212.35M312.91 215.28L316.29 213.33M316.29 215.28L312.91 213.33M320.6 216.25L320.6 212.35M318.91 215.28L322.29 213.33M322.29 215.28L318.91 213.33M376.1 203.65L376.1 199.75M374.41 202.67L377.79 200.72M377.79 202.67L374.41 200.72M382.1 203.65L382.1 199.75M380.41 202.67L383.79 200.72M383.79 202.67L380.41 200.72M388.1 203.65L388.1 199.75M386.41 202.67L389.79 200.72M389.79 202.67L386.41 200.72M397.5 207.75L397.5 203.85M395.81 206.78L399.19 204.83M399.19 206.78L395.81 204.83M403.5 207.75L403.5 203.85M401.81 206.78L405.19 204.83M405.19 206.78L401.81 204.83M409.5 207.75L409.5 203.85M407.81 206.78L411.19 204.83M411.19 206.78L407.81 204.83M423.7 210.95L423.7 207.05M422.01 209.97L425.39 208.03M425.39 209.97L422.01 208.03M429.7 210.95L429.7 207.05M428.01 209.97L431.39 208.03M431.39 209.97L428.01 208.03M487.1 209.75L487.1 205.85M485.41 208.78L488.79 206.83M488.79 208.78L485.41 206.83M493.1 209.75L493.1 205.85M491.41 208.78L494.79 206.83M494.79 208.78L491.41 206.83M499.1 209.75L499.1 205.85M497.41 208.78L500.79 206.83M500.79 208.78L497.41 206.83M507.7 196.45L507.7 192.55M506.01 195.47L509.39 193.53M509.39 195.47L506.01 193.53M513.7 196.45L513.7 192.55M512.01 195.47L515.39 193.53M515.39 195.47L512.01 193.53M519.7 196.45L519.7 192.55M518.01 195.47L521.39 193.53M521.39 195.47L518.01 193.53M529.7 203.95L529.7 200.05M528.01 202.97L531.39 201.03M531.39 202.97L528.01 201.03M535.7 203.95L535.7 200.05M534.01 202.97L537.39 201.03M537.39 202.97L534.01 201.03M541.7 203.95L541.7 200.05M540.01 202.97L543.39 201.03M543.39 202.97L540.01 201.03M553.4 178.55L553.4 174.65M551.71 177.57L555.09 175.62M555.09 177.57L551.71 175.62M559.4 178.55L559.4 174.65M557.71 177.57L561.09 175.62M561.09 177.57L557.71 175.62M565.4 178.55L565.4 174.65M563.71 177.57L567.09 175.62M567.09 177.57L563.71 175.62M574.2 207.45L574.2 203.55M572.51 206.47L575.89 204.53M575.89 206.47L572.51 204.53M580.2 207.45L580.2 203.55M578.51 206.47L581.89 204.53M581.89 206.47L578.51 204.53M586.2 207.45L586.2 203.55M584.51 206.47L587.89 204.53M587.89 206.47L584.51 204.53M598.1 204.25L598.1 200.35M596.41 203.28L599.79 201.33M599.79 203.28L596.41 201.33M604.1 204.25L604.1 200.35M602.41 203.28L605.79 201.33M605.79 203.28L602.41 201.33M610.1 204.25L610.1 200.35M608.41 203.28L611.79 201.33M611.79 203.28L608.41 201.33M619 211.35L619 207.45M617.31 210.38L620.69 208.43M620.69 210.38L617.31 208.43M625 211.35L625 207.45M623.31 210.38L626.69 208.43M626.69 210.38L623.31 208.43M631 211.35L631 207.45M629.31 210.38L632.69 208.43M632.69 210.38L629.31 208.43M93 406.75L93 402.85M91.31 405.78L94.69 403.82M94.69 405.78L91.31 403.82M99 406.75L99 402.85M97.31 405.78L100.69 403.82M100.69 405.78L97.31 403.82M118.5 405.75L118.5 401.85M116.81 404.78L120.19 402.82M120.19 404.78L116.81 402.82M162.2 384.85L162.2 380.95M160.51 383.88L163.89 381.92M163.89 383.88L160.51 381.92M203.4 387.15L203.4 383.25M201.71 386.18L205.09 384.22M205.09 386.18L201.71 384.22M209.4 387.15L209.4 383.25M207.71 386.18L211.09 384.22M211.09 386.18L207.71 384.22M242.1 375.35L242.1 371.45M240.41 374.38L243.79 372.42M243.79 374.38L240.41 372.42M248.1 375.35L248.1 371.45M246.41 374.38L249.79 372.42M249.79 374.38L246.41 372.42M254.1 375.35L254.1 371.45M252.41 374.38L255.79 372.42M255.79 374.38L252.41 372.42M266.4 371.35L266.4 367.45M264.71 370.38L268.09 368.42M268.09 370.38L264.71 368.42M272.4 371.35L272.4 367.45M270.71 370.38L274.09 368.42M274.09 370.38L270.71 368.42M278.4 371.35L278.4 367.45M276.71 370.38L280.09 368.42M280.09 370.38L276.71 368.42M288.5 374.55L288.5 370.65M286.81 373.58L290.19 371.62M290.19 373.58L286.81 371.62M294.5 374.55L294.5 370.65M292.81 373.58L296.19 371.62M296.19 373.58L292.81 371.62M300.5 374.55L300.5 370.65M298.81 373.58L302.19 371.62M302.19 373.58L298.81 371.62M311.6 385.35L311.6 381.45M309.91 384.38L313.29 382.42M313.29 384.38L309.91 382.42M317.6 385.35L317.6 381.45M315.91 384.38L319.29 382.42M319.29 384.38L315.91 382.42M323.6 385.35L323.6 381.45M321.91 384.38L325.29 382.42M325.29 384.38L321.91 382.42M378.8 413.45L378.8 409.55M377.11 412.48L380.49 410.52M380.49 412.48L377.11 410.52M384.8 413.45L384.8 409.55M383.11 412.48L386.49 410.52M386.49 412.48L383.11 410.52M398.4 411.65L398.4 407.75M396.71 410.68L400.09 408.72M400.09 410.68L396.71 408.72M404.4 411.65L404.4 407.75M402.71 410.68L406.09 408.72M406.09 410.68L402.71 408.72M410.4 411.65L410.4 407.75M408.71 410.68L412.09 408.72M412.09 410.68L408.71 408.72M426 415.45L426 411.55M424.31 414.48L427.69 412.52M427.69 414.48L424.31 412.52M441.1 409.65L441.1 405.75M439.41 408.68L442.79 406.72M442.79 408.68L439.41 406.72M447.1 409.65L447.1 405.75M445.41 408.68L448.79 406.72M448.79 408.68L445.41 406.72M453.1 409.65L453.1 405.75M451.41 408.68L454.79 406.72M454.79 408.68L451.41 406.72M464.4 394.45L464.4 390.55M462.71 393.48L466.09 391.52M466.09 393.48L462.71 391.52M470.4 394.45L470.4 390.55M468.71 393.48L472.09 391.52M472.09 393.48L468.71 391.52M476.4 394.45L476.4 390.55M474.71 393.48L478.09 391.52M478.09 393.48L474.71 391.52M488.8 396.25L488.8 392.35M487.11 395.28L490.49 393.32M490.49 395.28L487.11 393.32M494.8 396.25L494.8 392.35M493.11 395.28L496.49 393.32M496.49 395.28L493.11 393.32M508.5 391.75L508.5 387.85M506.81 390.78L510.19 388.82M510.19 390.78L506.81 388.82M514.5 391.75L514.5 387.85M512.81 390.78L516.19 388.82M516.19 390.78L512.81 388.82M520.5 391.75L520.5 387.85M518.81 390.78L522.19 388.82M522.19 390.78L518.81 388.82M529.2 395.25L529.2 391.35M527.51 394.28L530.89 392.32M530.89 394.28L527.51 392.32M535.2 395.25L535.2 391.35M533.51 394.28L536.89 392.32M536.89 394.28L533.51 392.32M541.2 395.25L541.2 391.35M539.51 394.28L542.89 392.32M542.89 394.28L539.51 392.32M552.8 395.25L552.8 391.35M551.11 394.28L554.49 392.32M554.49 394.28L551.11 392.32M558.8 395.25L558.8 391.35M557.11 394.28L560.49 392.32M560.49 394.28L557.11 392.32M564.8 395.25L564.8 391.35M563.11 394.28L566.49 392.32M566.49 394.28L563.11 392.32M577.4 396.25L577.4 392.35M575.71 395.28L579.09 393.32M579.09 395.28L575.71 393.32M583.4 396.25L583.4 392.35M581.71 395.28L585.09 393.32M585.09 395.28L581.71 393.32M599 396.45L599 392.55M597.31 395.48L600.69 393.52M600.69 395.48L597.31 393.52M605 396.45L605 392.55M603.31 395.48L606.69 393.52M606.69 395.48L603.31 393.52M643.2 394.45L643.2 390.55M641.51 393.48L644.89 391.52M644.89 393.48L641.51 391.52M649.2 394.45L649.2 390.55M647.51 393.48L650.89 391.52M650.89 393.48L647.51 391.52M140.3 618.15L140.3 614.25M138.61 617.18L141.99 615.23M141.99 617.18L138.61 615.23M155.9 585.55L155.9 581.65M154.21 584.58L157.59 582.62M157.59 584.58L154.21 582.62M161.9 585.55L161.9 581.65M160.21 584.58L163.59 582.62M163.59 584.58L160.21 582.62M167.9 585.55L167.9 581.65M166.21 584.58L169.59 582.62M169.59 584.58L166.21 582.62M175.7 623.55L175.7 619.65M174.01 622.58L177.39 620.62M177.39 622.58L174.01 620.62M181.7 623.55L181.7 619.65M180.01 622.58L183.39 620.62M183.39 622.58L180.01 620.62M187.7 623.55L187.7 619.65M186.01 622.58L189.39 620.62M189.39 622.58L186.01 620.62M202.8 620.95L202.8 617.05M201.11 619.98L204.49 618.02M204.49 619.98L201.11 618.02M208.8 620.95L208.8 617.05M207.11 619.98L210.49 618.02M210.49 619.98L207.11 618.02M223 620.95L223 617.05M221.31 619.98L224.69 618.02M224.69 619.98L221.31 618.02M229 620.95L229 617.05M227.31 619.98L230.69 618.02M230.69 619.98L227.31 618.02M235 620.95L235 617.05M233.31 619.98L236.69 618.02M236.69 619.98L233.31 618.02M269.4 619.75L269.4 615.85M267.71 618.77L271.09 616.82M271.09 618.77L267.71 616.82M275.4 619.75L275.4 615.85M273.71 618.77L277.09 616.82M277.09 618.77L273.71 616.82M287.8 583.65L287.8 579.75M286.11 582.68L289.49 580.73M289.49 582.68L286.11 580.73M293.8 583.65L293.8 579.75M292.11 582.68L295.49 580.73M295.49 582.68L292.11 580.73M299.8 583.65L299.8 579.75M298.11 582.68L301.49 580.73M301.49 582.68L298.11 580.73M316.1 617.45L316.1 613.55M314.41 616.48L317.79 614.52M317.79 616.48L314.41 614.52M329.5 622.65L329.5 618.75M327.81 621.68L331.19 619.73M331.19 621.68L327.81 619.73M335.5 622.65L335.5 618.75M333.81 621.68L337.19 619.73M337.19 621.68L333.81 619.73M341.5 622.65L341.5 618.75M339.81 621.68L343.19 619.73M343.19 621.68L339.81 619.73M404 619.35L404 615.45M402.31 618.38L405.69 616.42M405.69 618.38L402.31 616.42M470.3 619.65L470.3 615.75M468.61 618.68L471.99 616.73M471.99 618.68L468.61 616.73M483.9 589.75L483.9 585.85M482.21 588.77L485.59 586.82M485.59 588.77L482.21 586.82M489.9 589.75L489.9 585.85M488.21 588.77L491.59 586.82M491.59 588.77L488.21 586.82M495.9 589.75L495.9 585.85M494.21 588.77L497.59 586.82M497.59 588.77L494.21 586.82M505.3 585.95L505.3 582.05M503.61 584.98L506.99 583.02M506.99 584.98L503.61 583.02M511.3 585.95L511.3 582.05M509.61 584.98L512.99 583.02M512.99 584.98L509.61 583.02M517.3 585.95L517.3 582.05M515.61 584.98L518.99 583.02M518.99 584.98L515.61 583.02M529.7 586.45L529.7 582.55M528.01 585.48L531.39 583.52M531.39 585.48L528.01 583.52M535.7 586.45L535.7 582.55M534.01 585.48L537.39 583.52M537.39 585.48L534.01 583.52M541.7 586.45L541.7 582.55M540.01 585.48L543.39 583.52M543.39 585.48L540.01 583.52M550.4 593.25L550.4 589.35M548.71 592.27L552.09 590.32M552.09 592.27L548.71 590.32M556.4 593.25L556.4 589.35M554.71 592.27L558.09 590.32M558.09 592.27L554.71 590.32M562.4 593.25L562.4 589.35M560.71 592.27L564.09 590.32M564.09 592.27L560.71 590.32M574.8 589.75L574.8 585.85M573.11 588.77L576.49 586.82M576.49 588.77L573.11 586.82M580.8 589.75L580.8 585.85M579.11 588.77L582.49 586.82M582.49 588.77L579.11 586.82M586.8 589.75L586.8 585.85M585.11 588.77L588.49 586.82M588.49 588.77L585.11 586.82M596.2 588.35L596.2 584.45M594.51 587.38L597.89 585.42M597.89 587.38L594.51 585.42M602.2 588.35L602.2 584.45M600.51 587.38L603.89 585.42M603.89 587.38L600.51 585.42M608.2 588.35L608.2 584.45M606.51 587.38L609.89 585.42M609.89 587.38L606.51 585.42M618.1 592.25L618.1 588.35M616.41 591.27L619.79 589.32M619.79 591.27L616.41 589.32M624.1 592.25L624.1 588.35M622.41 591.27L625.79 589.32M625.79 591.27L622.41 589.32M630.1 592.25L630.1 588.35M628.41 591.27L631.79 589.32M631.79 591.27L628.41 589.32M637.2 590.15L637.2 586.25M635.51 589.18L638.89 587.23M638.89 589.18L635.51 587.23M643.2 590.15L643.2 586.25M641.51 589.18L644.89 587.23M644.89 589.18L641.51 587.23M649.2 590.15L649.2 586.25M647.51 589.18L650.89 587.23M650.89 589.18L647.51 587.23" stroke="#f06262" stroke-width="1.15" stroke-linecap="round" fill="none"/>
<path d="M68.7 188.75L68.7 184.85M67.01 187.78L70.39 185.83M70.39 187.78L67.01 185.83M74.7 188.75L74.7 184.85M73.01 187.78L76.39 185.83M76.39 187.78L73.01 185.83M89.1 158.15L89.1 154.25M87.41 157.17L90.79 155.22M90.79 157.17L87.41 155.22M95.1 158.15L95.1 154.25M93.41 157.17L96.79 155.22M96.79 157.17L93.41 155.22M101.1 158.15L101.1 154.25M99.41 157.17L102.79 155.22M102.79 157.17L99.41 155.22M115 171.55L115 167.65M113.31 170.57L116.69 168.62M116.69 170.57L113.31 168.62M121 171.55L121 167.65M119.31 170.57L122.69 168.62M122.69 170.57L119.31 168.62M127 171.55L127 167.65M125.31 170.57L128.69 168.62M128.69 170.57L125.31 168.62M240.9 213.75L240.9 209.85M239.21 212.78L242.59 210.83M242.59 212.78L239.21 210.83M246.9 213.75L246.9 209.85M245.21 212.78L248.59 210.83M248.59 212.78L245.21 210.83M252.9 213.75L252.9 209.85M251.21 212.78L254.59 210.83M254.59 212.78L251.21 210.83M265 218.65L265 214.75M263.31 217.67L266.69 215.72M266.69 217.67L263.31 215.72M271 218.65L271 214.75M269.31 217.67L272.69 215.72M272.69 217.67L269.31 215.72M277 218.65L277 214.75M275.31 217.67L278.69 215.72M278.69 217.67L275.31 215.72M290.6 191.25L290.6 187.35M288.91 190.28L292.29 188.33M292.29 190.28L288.91 188.33M296.6 191.25L296.6 187.35M294.91 190.28L298.29 188.33M298.29 190.28L294.91 188.33M375.1 165.35L375.1 161.45M373.41 164.38L376.79 162.43M376.79 164.38L373.41 162.43M381.1 165.35L381.1 161.45M379.41 164.38L382.79 162.43M382.79 164.38L379.41 162.43M387.1 165.35L387.1 161.45M385.41 164.38L388.79 162.43M388.79 164.38L385.41 162.43M404 161.55L404 157.65M402.31 160.57L405.69 158.62M405.69 160.57L402.31 158.62M419.7 172.45L419.7 168.55M418.01 171.47L421.39 169.53M421.39 171.47L418.01 169.53M425.7 172.45L425.7 168.55M424.01 171.47L427.39 169.53M427.39 171.47L424.01 169.53M431.7 172.45L431.7 168.55M430.01 171.47L433.39 169.53M433.39 171.47L430.01 169.53M441.6 168.25L441.6 164.35M439.91 167.28L443.29 165.33M443.29 167.28L439.91 165.33M447.6 168.25L447.6 164.35M445.91 167.28L449.29 165.33M449.29 167.28L445.91 165.33M453.6 168.25L453.6 164.35M451.91 167.28L455.29 165.33M455.29 167.28L451.91 165.33M467.3 164.55L467.3 160.65M465.61 163.57L468.99 161.62M468.99 163.57L465.61 161.62M473.3 164.55L473.3 160.65M471.61 163.57L474.99 161.62M474.99 163.57L471.61 161.62M484.5 174.75L484.5 170.85M482.81 173.78L486.19 171.83M486.19 173.78L482.81 171.83M490.5 174.75L490.5 170.85M488.81 173.78L492.19 171.83M492.19 173.78L488.81 171.83M496.5 174.75L496.5 170.85M494.81 173.78L498.19 171.83M498.19 173.78L494.81 171.83M506.6 169.45L506.6 165.55M504.91 168.47L508.29 166.53M508.29 168.47L504.91 166.53M512.6 169.45L512.6 165.55M510.91 168.47L514.29 166.53M514.29 168.47L510.91 166.53M518.6 169.45L518.6 165.55M516.91 168.47L520.29 166.53M520.29 168.47L516.91 166.53M528.4 181.55L528.4 177.65M526.71 180.57L530.09 178.62M530.09 180.57L526.71 178.62M534.4 181.55L534.4 177.65M532.71 180.57L536.09 178.62M536.09 180.57L532.71 178.62M540.4 181.55L540.4 177.65M538.71 180.57L542.09 178.62M542.09 180.57L538.71 178.62M550.1 207.45L550.1 203.55M548.41 206.47L551.79 204.53M551.79 206.47L548.41 204.53M556.1 207.45L556.1 203.55M554.41 206.47L557.79 204.53M557.79 206.47L554.41 204.53M562.1 207.45L562.1 203.55M560.41 206.47L563.79 204.53M563.79 206.47L560.41 204.53M572.3 185.35L572.3 181.45M570.61 184.38L573.99 182.43M573.99 184.38L570.61 182.43M578.3 185.35L578.3 181.45M576.61 184.38L579.99 182.43M579.99 184.38L576.61 182.43M584.3 185.35L584.3 181.45M582.61 184.38L585.99 182.43M585.99 184.38L582.61 182.43M593.5 178.25L593.5 174.35M591.81 177.28L595.19 175.33M595.19 177.28L591.81 175.33M599.5 178.25L599.5 174.35M597.81 177.28L601.19 175.33M601.19 177.28L597.81 175.33M605.5 178.25L605.5 174.35M603.81 177.28L607.19 175.33M607.19 177.28L603.81 175.33M615.3 186.25L615.3 182.35M613.61 185.28L616.99 183.33M616.99 185.28L613.61 183.33M621.3 186.25L621.3 182.35M619.61 185.28L622.99 183.33M622.99 185.28L619.61 183.33M627.3 186.25L627.3 182.35M625.61 185.28L628.99 183.33M628.99 185.28L625.61 183.33M636.9 171.75L636.9 167.85M635.21 170.78L638.59 168.83M638.59 170.78L635.21 168.83M642.9 171.75L642.9 167.85M641.21 170.78L644.59 168.83M644.59 170.78L641.21 168.83M648.9 171.75L648.9 167.85M647.21 170.78L650.59 168.83M650.59 170.78L647.21 168.83M68.7 373.45L68.7 369.55M67.01 372.48L70.39 370.52M70.39 372.48L67.01 370.52M74.7 373.45L74.7 369.55M73.01 372.48L76.39 370.52M76.39 372.48L73.01 370.52M80.7 373.45L80.7 369.55M79.01 372.48L82.39 370.52M82.39 372.48L79.01 370.52M136 390.85L136 386.95M134.31 389.88L137.69 387.92M137.69 389.88L134.31 387.92M142 390.85L142 386.95M140.31 389.88L143.69 387.92M143.69 389.88L140.31 387.92M156.1 420.45L156.1 416.55M154.41 419.48L157.79 417.52M157.79 419.48L154.41 417.52M162.1 420.45L162.1 416.55M160.41 419.48L163.79 417.52M163.79 419.48L160.41 417.52M168.1 420.45L168.1 416.55M166.41 419.48L169.79 417.52M169.79 419.48L166.41 417.52M179.5 377.55L179.5 373.65M177.81 376.58L181.19 374.62M181.19 376.58L177.81 374.62M185.5 377.55L185.5 373.65M183.81 376.58L187.19 374.62M187.19 376.58L183.81 374.62M191.5 377.55L191.5 373.65M189.81 376.58L193.19 374.62M193.19 376.58L189.81 374.62M197.3 409.85L197.3 405.95M195.61 408.88L198.99 406.92M198.99 408.88L195.61 406.92M203.3 409.85L203.3 405.95M201.61 408.88L204.99 406.92M204.99 408.88L201.61 406.92M209.3 409.85L209.3 405.95M207.61 408.88L210.99 406.92M210.99 408.88L207.61 406.92M217.9 420.15L217.9 416.25M216.21 419.18L219.59 417.22M219.59 419.18L216.21 417.22M223.9 420.15L223.9 416.25M222.21 419.18L225.59 417.22M225.59 419.18L222.21 417.22M229.9 420.15L229.9 416.25M228.21 419.18L231.59 417.22M231.59 419.18L228.21 417.22M244.4 431.05L244.4 427.15M242.71 430.08L246.09 428.12M246.09 430.08L242.71 428.12M250.4 431.05L250.4 427.15M248.71 430.08L252.09 428.12M252.09 430.08L248.71 428.12M256.4 431.05L256.4 427.15M254.71 430.08L258.09 428.12M258.09 430.08L254.71 428.12M265.7 417.75L265.7 413.85M264.01 416.78L267.39 414.82M267.39 416.78L264.01 414.82M271.7 417.75L271.7 413.85M270.01 416.78L273.39 414.82M273.39 416.78L270.01 414.82M277.7 417.75L277.7 413.85M276.01 416.78L279.39 414.82M279.39 416.78L276.01 414.82M286.5 419.25L286.5 415.35M284.81 418.28L288.19 416.32M288.19 418.28L284.81 416.32M292.5 419.25L292.5 415.35M290.81 418.28L294.19 416.32M294.19 418.28L290.81 416.32M298.5 419.25L298.5 415.35M296.81 418.28L300.19 416.32M300.19 418.28L296.81 416.32M309.7 424.25L309.7 420.35M308.01 423.28L311.39 421.32M311.39 423.28L308.01 421.32M315.7 424.25L315.7 420.35M314.01 423.28L317.39 421.32M317.39 423.28L314.01 421.32M321.7 424.25L321.7 420.35M320.01 423.28L323.39 421.32M323.39 423.28L320.01 421.32M332.4 427.75L332.4 423.85M330.71 426.78L334.09 424.82M334.09 426.78L330.71 424.82M338.4 427.75L338.4 423.85M336.71 426.78L340.09 424.82M340.09 426.78L336.71 424.82M344.4 427.75L344.4 423.85M342.71 426.78L346.09 424.82M346.09 426.78L342.71 424.82M379 364.55L379 360.65M377.31 363.58L380.69 361.62M380.69 363.58L377.31 361.62M385 364.55L385 360.65M383.31 363.58L386.69 361.62M386.69 363.58L383.31 361.62M401 366.35L401 362.45M399.31 365.38L402.69 363.42M402.69 365.38L399.31 363.42M407 366.35L407 362.45M405.31 365.38L408.69 363.42M408.69 365.38L405.31 363.42M419.5 380.55L419.5 376.65M417.81 379.58L421.19 377.62M421.19 379.58L417.81 377.62M425.5 380.55L425.5 376.65M423.81 379.58L427.19 377.62M427.19 379.58L423.81 377.62M431.5 380.55L431.5 376.65M429.81 379.58L433.19 377.62M433.19 379.58L429.81 377.62M442.2 385.35L442.2 381.45M440.51 384.38L443.89 382.42M443.89 384.38L440.51 382.42M448.2 385.35L448.2 381.45M446.51 384.38L449.89 382.42M449.89 384.38L446.51 382.42M454.2 385.35L454.2 381.45M452.51 384.38L455.89 382.42M455.89 384.38L452.51 382.42M461.9 413.25L461.9 409.35M460.21 412.28L463.59 410.32M463.59 412.28L460.21 410.32M467.9 413.25L467.9 409.35M466.21 412.28L469.59 410.32M469.59 412.28L466.21 410.32M473.9 413.25L473.9 409.35M472.21 412.28L475.59 410.32M475.59 412.28L472.21 410.32M482.9 428.15L482.9 424.25M481.21 427.18L484.59 425.22M484.59 427.18L481.21 425.22M488.9 428.15L488.9 424.25M487.21 427.18L490.59 425.22M490.59 427.18L487.21 425.22M494.9 428.15L494.9 424.25M493.21 427.18L496.59 425.22M496.59 427.18L493.21 425.22M507 429.35L507 425.45M505.31 428.38L508.69 426.42M508.69 428.38L505.31 426.42M513 429.35L513 425.45M511.31 428.38L514.69 426.42M514.69 428.38L511.31 426.42M519 429.35L519 425.45M517.31 428.38L520.69 426.42M520.69 428.38L517.31 426.42M529.2 430.15L529.2 426.25M527.51 429.18L530.89 427.22M530.89 429.18L527.51 427.22M535.2 430.15L535.2 426.25M533.51 429.18L536.89 427.22M536.89 429.18L533.51 427.22M541.2 430.15L541.2 426.25M539.51 429.18L542.89 427.22M542.89 429.18L539.51 427.22M550.5 433.45L550.5 429.55M548.81 432.48L552.19 430.52M552.19 432.48L548.81 430.52M556.5 433.45L556.5 429.55M554.81 432.48L558.19 430.52M558.19 432.48L554.81 430.52M562.5 433.45L562.5 429.55M560.81 432.48L564.19 430.52M564.19 432.48L560.81 430.52M574.6 429.75L574.6 425.85M572.91 428.78L576.29 426.82M576.29 428.78L572.91 426.82M580.6 429.75L580.6 425.85M578.91 428.78L582.29 426.82M582.29 428.78L578.91 426.82M586.6 429.75L586.6 425.85M584.91 428.78L588.29 426.82M588.29 428.78L584.91 426.82M596.1 423.95L596.1 420.05M594.41 422.98L597.79 421.02M597.79 422.98L594.41 421.02M602.1 423.95L602.1 420.05M600.41 422.98L603.79 421.02M603.79 422.98L600.41 421.02M608.1 423.95L608.1 420.05M606.41 422.98L609.79 421.02M609.79 422.98L606.41 421.02M616.9 396.45L616.9 392.55M615.21 395.48L618.59 393.52M618.59 395.48L615.21 393.52M622.9 396.45L622.9 392.55M621.21 395.48L624.59 393.52M624.59 395.48L621.21 393.52M628.9 396.45L628.9 392.55M627.21 395.48L630.59 393.52M630.59 395.48L627.21 393.52M637.9 427.75L637.9 423.85M636.21 426.78L639.59 424.82M639.59 426.78L636.21 424.82M643.9 427.75L643.9 423.85M642.21 426.78L645.59 424.82M645.59 426.78L642.21 424.82M649.9 427.75L649.9 423.85M648.21 426.78L651.59 424.82M651.59 426.78L648.21 424.82M65.1 595.65L65.1 591.75M63.41 594.68L66.79 592.73M66.79 594.68L63.41 592.73M71.1 595.65L71.1 591.75M69.41 594.68L72.79 592.73M72.79 594.68L69.41 592.73M77.1 595.65L77.1 591.75M75.41 594.68L78.79 592.73M78.79 594.68L75.41 592.73M90.8 578.35L90.8 574.45M89.11 577.38L92.49 575.42M92.49 577.38L89.11 575.42M96.8 578.35L96.8 574.45M95.11 577.38L98.49 575.42M98.49 577.38L95.11 575.42M102.8 578.35L102.8 574.45M101.11 577.38L104.49 575.42M104.49 577.38L101.11 575.42M113.7 568.45L113.7 564.55M112.01 567.48L115.39 565.52M115.39 567.48L112.01 565.52M119.7 568.45L119.7 564.55M118.01 567.48L121.39 565.52M121.39 567.48L118.01 565.52M125.7 568.45L125.7 564.55M124.01 567.48L127.39 565.52M127.39 567.48L124.01 565.52M154.4 620.15L154.4 616.25M152.71 619.18L156.09 617.23M156.09 619.18L152.71 617.23M160.4 620.15L160.4 616.25M158.71 619.18L162.09 617.23M162.09 619.18L158.71 617.23M166.4 620.15L166.4 616.25M164.71 619.18L168.09 617.23M168.09 619.18L164.71 617.23M199.5 569.05L199.5 565.15M197.81 568.08L201.19 566.12M201.19 568.08L197.81 566.12M205.5 569.05L205.5 565.15M203.81 568.08L207.19 566.12M207.19 568.08L203.81 566.12M211.5 569.05L211.5 565.15M209.81 568.08L213.19 566.12M213.19 568.08L209.81 566.12M242.7 626.05L242.7 622.15M241.01 625.08L244.39 623.12M244.39 625.08L241.01 623.12M248.7 626.05L248.7 622.15M247.01 625.08L250.39 623.12M250.39 625.08L247.01 623.12M254.7 626.05L254.7 622.15M253.01 625.08L256.39 623.12M256.39 625.08L253.01 623.12M289.8 618.95L289.8 615.05M288.11 617.98L291.49 616.02M291.49 617.98L288.11 616.02M295.8 618.95L295.8 615.05M294.11 617.98L297.49 616.02M297.49 617.98L294.11 616.02M301.8 618.95L301.8 615.05M300.11 617.98L303.49 616.02M303.49 617.98L300.11 616.02M330.7 578.25L330.7 574.35M329.01 577.27L332.39 575.32M332.39 577.27L329.01 575.32M336.7 578.25L336.7 574.35M335.01 577.27L338.39 575.32M338.39 577.27L335.01 575.32M342.7 578.25L342.7 574.35M341.01 577.27L344.39 575.32M344.39 577.27L341.01 575.32M381.9 579.45L381.9 575.55M380.21 578.48L383.59 576.52M383.59 578.48L380.21 576.52M397.5 588.95L397.5 585.05M395.81 587.98L399.19 586.02M399.19 587.98L395.81 586.02M403.5 588.95L403.5 585.05M401.81 587.98L405.19 586.02M405.19 587.98L401.81 586.02M409.5 588.95L409.5 585.05M407.81 587.98L411.19 586.02M411.19 587.98L407.81 586.02M422.3 589.25L422.3 585.35M420.61 588.27L423.99 586.32M423.99 588.27L420.61 586.32M428.3 589.25L428.3 585.35M426.61 588.27L429.99 586.32M429.99 588.27L426.61 586.32M441.1 591.55L441.1 587.65M439.41 590.58L442.79 588.62M442.79 590.58L439.41 588.62M447.1 591.55L447.1 587.65M445.41 590.58L448.79 588.62M448.79 590.58L445.41 588.62M453.1 591.55L453.1 587.65M451.41 590.58L454.79 588.62M454.79 590.58L451.41 588.62M463.9 600.35L463.9 596.45M462.21 599.38L465.59 597.42M465.59 599.38L462.21 597.42M469.9 600.35L469.9 596.45M468.21 599.38L471.59 597.42M471.59 599.38L468.21 597.42M475.9 600.35L475.9 596.45M474.21 599.38L477.59 597.42M477.59 599.38L474.21 597.42M483 619.65L483 615.75M481.31 618.68L484.69 616.73M484.69 618.68L481.31 616.73M489 619.65L489 615.75M487.31 618.68L490.69 616.73M490.69 618.68L487.31 616.73M495 619.65L495 615.75M493.31 618.68L496.69 616.73M496.69 618.68L493.31 616.73M505.1 627.75L505.1 623.85M503.41 626.77L506.79 624.82M506.79 626.77L503.41 624.82M511.1 627.75L511.1 623.85M509.41 626.77L512.79 624.82M512.79 626.77L509.41 624.82M517.1 627.75L517.1 623.85M515.41 626.77L518.79 624.82M518.79 626.77L515.41 624.82M528.7 626.95L528.7 623.05M527.01 625.98L530.39 624.02M530.39 625.98L527.01 624.02M534.7 626.95L534.7 623.05M533.01 625.98L536.39 624.02M536.39 625.98L533.01 624.02M540.7 626.95L540.7 623.05M539.01 625.98L542.39 624.02M542.39 625.98L539.01 624.02M551.7 621.35L551.7 617.45M550.01 620.38L553.39 618.42M553.39 620.38L550.01 618.42M557.7 621.35L557.7 617.45M556.01 620.38L559.39 618.42M559.39 620.38L556.01 618.42M563.7 621.35L563.7 617.45M562.01 620.38L565.39 618.42M565.39 620.38L562.01 618.42M573.5 622.85L573.5 618.95M571.81 621.88L575.19 619.92M575.19 621.88L571.81 619.92M579.5 622.85L579.5 618.95M577.81 621.88L581.19 619.92M581.19 621.88L577.81 619.92M585.5 622.85L585.5 618.95M583.81 621.88L587.19 619.92M587.19 621.88L583.81 619.92M593.85 624.25L593.85 620.35M592.16 623.27L595.54 621.32M595.54 623.27L592.16 621.32M599.85 624.25L599.85 620.35M598.16 623.27L601.54 621.32M601.54 623.27L598.16 621.32M605.85 624.25L605.85 620.35M604.16 623.27L607.54 621.32M607.54 623.27L604.16 621.32M616.2 625.35L616.2 621.45M614.51 624.38L617.89 622.42M617.89 624.38L614.51 622.42M622.2 625.35L622.2 621.45M620.51 624.38L623.89 622.42M623.89 624.38L620.51 622.42M628.2 625.35L628.2 621.45M626.51 624.38L629.89 622.42M629.89 624.38L626.51 622.42M638.9 622.75L638.9 618.85M637.21 621.77L640.59 619.82M640.59 621.77L637.21 619.82M644.9 622.75L644.9 618.85M643.21 621.77L646.59 619.82M646.59 621.77L643.21 619.82M650.9 622.75L650.9 618.85M649.21 621.77L652.59 619.82M652.59 621.77L649.21 619.82" stroke="#6060ec" stroke-width="1.15" stroke-linecap="round" fill="none"/>
<path d="M37.5 25.6H657M37.5 230.5H657M37.5 435.5H657M37.5 640.5H657M41.5 25.6V640.5M349.4 25.6V640.5M657 25.6V640.5M37.5 230.5H41.5M37.5 207.72H41.5M37.5 184.94H41.5M37.5 162.17H41.5M37.5 139.39H41.5M37.5 116.61H41.5M37.5 93.83H41.5M37.5 71.06H41.5M37.5 48.28H41.5M37.5 25.5H41.5M37.5 435.5H41.5M37.5 412.72H41.5M37.5 389.94H41.5M37.5 367.17H41.5M37.5 344.39H41.5M37.5 321.61H41.5M37.5 298.83H41.5M37.5 276.06H41.5M37.5 253.28H41.5M37.5 230.5H41.5M37.5 640.5H41.5M37.5 617.72H41.5M37.5 594.94H41.5M37.5 572.17H41.5M37.5 549.39H41.5M37.5 526.61H41.5M37.5 503.83H41.5M37.5 481.06H41.5M37.5 458.28H41.5M37.5 435.5H41.5M52.5 640.5V644.2M74.5 640.5V644.2M96.5 640.5V644.2M118.5 640.5V644.2M140.5 640.5V644.2M162.5 640.5V644.2M184.5 640.5V644.2M206.5 640.5V644.2M228.5 640.5V644.2M250.5 640.5V644.2M272.5 640.5V644.2M294.5 640.5V644.2M316.5 640.5V644.2M338.5 640.5V644.2M360.5 640.5V644.2M382.5 640.5V644.2M404.5 640.5V644.2M426.5 640.5V644.2M448.5 640.5V644.2M470.5 640.5V644.2M492.5 640.5V644.2M514.5 640.5V644.2M536.5 640.5V644.2M558.5 640.5V644.2M580.5 640.5V644.2M602.5 640.5V644.2M624.5 640.5V644.2M646.5 640.5V644.2" stroke="#2b2b2b" stroke-width="1" fill="none"/>
<text x="34.6" y="211.62" text-anchor="end" font-size="11.4" fill="#222">10%</text>
<text x="34.6" y="188.84" text-anchor="end" font-size="11.4" fill="#222">20%</text>
<text x="34.6" y="166.07" text-anchor="end" font-size="11.4" fill="#222">30%</text>
<text x="34.6" y="143.29" text-anchor="end" font-size="11.4" fill="#222">40%</text>
<text x="34.6" y="120.51" text-anchor="end" font-size="11.4" fill="#222">50%</text>
<text x="34.6" y="97.73" text-anchor="end" font-size="11.4" fill="#222">60%</text>
<text x="34.6" y="74.96" text-anchor="end" font-size="11.4" fill="#222">70%</text>
<text x="34.6" y="52.18" text-anchor="end" font-size="11.4" fill="#222">80%</text>
<text x="34.6" y="29.4" text-anchor="end" font-size="11.4" fill="#222">90%</text>
<text x="34.6" y="416.62" text-anchor="end" font-size="11.4" fill="#222">10%</text>
<text x="34.6" y="393.84" text-anchor="end" font-size="11.4" fill="#222">20%</text>
<text x="34.6" y="371.07" text-anchor="end" font-size="11.4" fill="#222">30%</text>
<text x="34.6" y="348.29" text-anchor="end" font-size="11.4" fill="#222">40%</text>
<text x="34.6" y="325.51" text-anchor="end" font-size="11.4" fill="#222">50%</text>
<text x="34.6" y="302.73" text-anchor="end" font-size="11.4" fill="#222">60%</text>
<text x="34.6" y="279.96" text-anchor="end" font-size="11.4" fill="#222">70%</text>
<text x="34.6" y="257.18" text-anchor="end" font-size="11.4" fill="#222">80%</text>
<text x="34.6" y="234.4" text-anchor="end" font-size="11.4" fill="#222">90%</text>
<text x="34.6" y="644.4" text-anchor="end" font-size="11.4" fill="#222">0%</text>
<text x="34.6" y="621.62" text-anchor="end" font-size="11.4" fill="#222">10%</text>
<text x="34.6" y="598.84" text-anchor="end" font-size="11.4" fill="#222">20%</text>
<text x="34.6" y="576.07" text-anchor="end" font-size="11.4" fill="#222">30%</text>
<text x="34.6" y="553.29" text-anchor="end" font-size="11.4" fill="#222">40%</text>
<text x="34.6" y="530.51" text-anchor="end" font-size="11.4" fill="#222">50%</text>
<text x="34.6" y="507.73" text-anchor="end" font-size="11.4" fill="#222">60%</text>
<text x="34.6" y="484.96" text-anchor="end" font-size="11.4" fill="#222">70%</text>
<text x="34.6" y="462.18" text-anchor="end" font-size="11.4" fill="#222">80%</text>
<text x="34.6" y="439.4" text-anchor="end" font-size="11.4" fill="#222">90%</text>
<text x="52.5" y="656.1" text-anchor="middle" font-size="11.4" fill="#222">CK</text>
<text x="74.5" y="656.1" text-anchor="middle" font-size="11.4" fill="#222">2h</text>
<text x="96.5" y="656.1" text-anchor="middle" font-size="11.4" fill="#222">4h</text>
<text x="118.5" y="656.1" text-anchor="middle" font-size="11.4" fill="#222">6h</text>
<text x="140.5" y="656.1" text-anchor="middle" font-size="11.4" fill="#222">8h</text>
<text x="162.5" y="656.1" text-anchor="middle" font-size="11.4" fill="#222">10h</text>
<text x="184.5" y="656.1" text-anchor="middle" font-size="11.4" fill="#222">12h</text>
<text x="206.5" y="656.1" text-anchor="middle" font-size="11.4" fill="#222">14h</text>
<text x="228.5" y="656.1" text-anchor="middle" font-size="11.4" fill="#222">16h</text>
<text x="250.5" y="656.1" text-anchor="middle" font-size="11.4" fill="#222">18h</text>
<text x="272.5" y="656.1" text-anchor="middle" font-size="11.4" fill="#222">20h</text>
<text x="294.5" y="656.1" text-anchor="middle" font-size="11.4" fill="#222">22h</text>
<text x="316.5" y="656.1" text-anchor="middle" font-size="11.4" fill="#222">24h</text>
<text x="338.5" y="656.1" text-anchor="middle" font-size="11.4" fill="#222">26h</text>
<text x="360.5" y="656.1" text-anchor="middle" font-size="11.4" fill="#222">CK</text>
<text x="382.5" y="656.1" text-anchor="middle" font-size="11.4" fill="#222">2h</text>
<text x="404.5" y="656.1" text-anchor="middle" font-size="11.4" fill="#222">4h</text>
<text x="426.5" y="656.1" text-anchor="middle" font-size="11.4" fill="#222">6h</text>
<text x="448.5" y="656.1" text-anchor="middle" font-size="11.4" fill="#222">8h</text>
<text x="470.5" y="656.1" text-anchor="middle" font-size="11.4" fill="#222">10h</text>
<text x="492.5" y="656.1" text-anchor="middle" font-size="11.4" fill="#222">12h</text>
<text x="514.5" y="656.1" text-anchor="middle" font-size="11.4" fill="#222">14h</text>
<text x="536.5" y="656.1" text-anchor="middle" font-size="11.4" fill="#222">16h</text>
<text x="558.5" y="656.1" text-anchor="middle" font-size="11.4" fill="#222">18h</text>
<text x="580.5" y="656.1" text-anchor="middle" font-size="11.4" fill="#222">20h</text>
<text x="602.5" y="656.1" text-anchor="middle" font-size="11.4" fill="#222">22h</text>
<text x="624.5" y="656.1" text-anchor="middle" font-size="11.4" fill="#222">24h</text>
<text x="646.5" y="656.1" text-anchor="middle" font-size="11.4" fill="#222">26h</text>
<text x="46.1" y="43.8" font-size="14.6" fill="#222">A</text>
<text x="354.7" y="43.8" font-size="14.6" fill="#222">B</text>
<text x="48.3" y="248.7" font-size="14.6" fill="#222">C</text>
<text x="356.6" y="248.7" font-size="14.6" fill="#222">D</text>
<text x="48" y="454.1" font-size="14.6" fill="#222">E</text>
<text x="354.8" y="453.7" font-size="14.6" fill="#222">F</text>
<text x="339.35" y="675.3" text-anchor="middle" font-size="11.9" fill="#222" xml:space="preserve">Duration of  HU treatment(h)</text>
<text transform="translate(9.2 332.8) rotate(-90)" text-anchor="middle" font-size="11.9" fill="#222">Nuclei (%)</text>
<rect x="235.6" y="0.5" width="224.6" height="21.7" fill="#fff" stroke="#9a9a9a" stroke-width="1"/>
<path d="M238.1 9.9H267.9" stroke="#b0b0b0" stroke-width="1.4"/>
<rect x="250.5" y="7.5" width="4.8" height="4.8" fill="#6f6f6f"/>
<text x="272" y="14.3" font-size="13.5" fill="#222">G<tspan font-size="9.2" dy="3.6">0</tspan><tspan dy="-3.6">/G</tspan><tspan font-size="9.2" dy="3.6">1</tspan></text>
<path d="M328 9.9H358.7" stroke="#f0a2a2" stroke-width="1.4"/>
<circle cx="343.8" cy="9.9" r="2.9" fill="#ea3036"/>
<text x="362.6" y="14.3" font-size="13.5" fill="#222">S</text>
<path d="M393.8 9.9H423.6" stroke="#8cb0e8" stroke-width="1.4"/>
<path d="M409.1 6.6L412.3 12.3L405.9 12.3z" fill="#1e63cc"/>
<text x="428.3" y="14.3" font-size="13.5" fill="#222">G<tspan font-size="9.2" dy="3.6">2</tspan><tspan dy="-3.6">/M</tspan></text>
</svg></body></html>
